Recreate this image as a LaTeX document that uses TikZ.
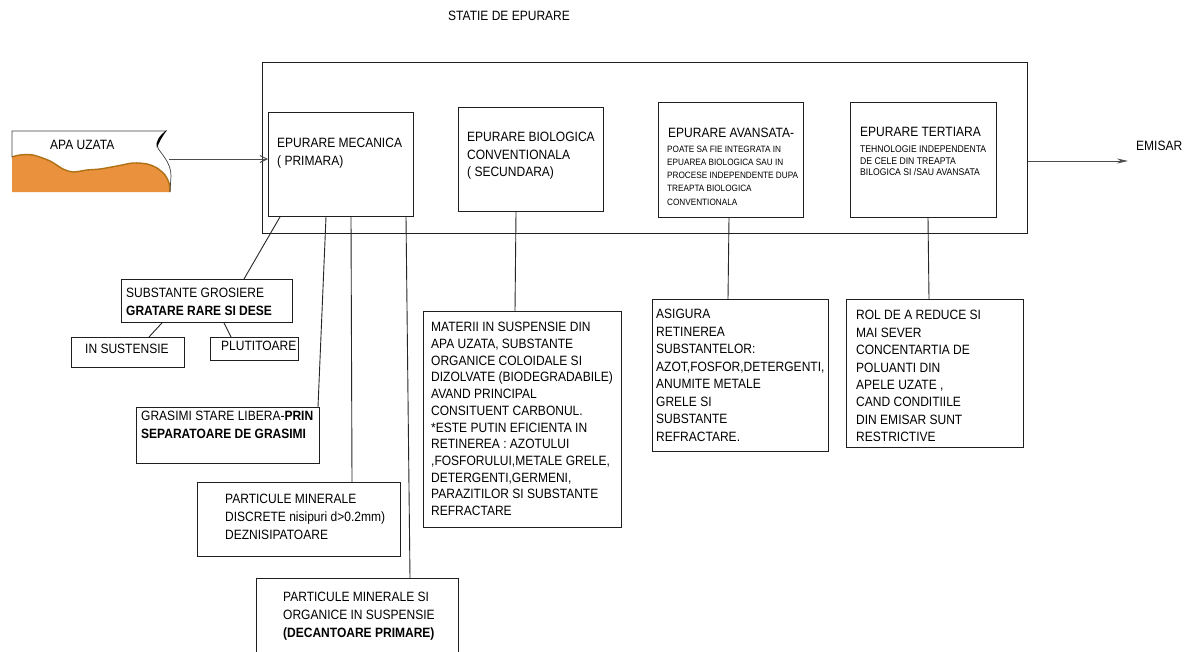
\documentclass[tikz,border=0pt]{standalone}
\usepackage{fontspec}
\setmainfont{Liberation Sans}[FakeStretch=0.89]
\usetikzlibrary{arrows.meta}
\definecolor{apaorange}{RGB}{233,145,60}
\definecolor{apabrown}{RGB}{176,112,20}
\newcommand{\bodyf}[1]{\fontsize{13.5}{#1}\selectfont}
\begin{document}
\begin{tikzpicture}[x=1pt,y=-1pt,
  bx/.style={draw=black!88, line width=0.9pt, inner sep=0pt, anchor=north west},
  tx/.style={inner sep=0pt, anchor=north west, align=left, text=black},
  ln/.style={draw=black!85, line width=0.9pt},
  arr/.style={draw=black!70, line width=0.9pt}]
\useasboundingbox (0,0) rectangle (1191,651);
\fill[white] (0,0) rectangle (1191,651);
\clip (0,0) rectangle (1191,651);

% title
\node[tx, font=\bodyf{16}] (title) at (448,11.2) {STATIE DE EPURARE};

% APA UZATA shape
\fill[apaorange] plot[smooth] coordinates {(12,157) (20,155) (33,155) (50,161) (63,169) (73,172) (87,170) (100,169) (117,166) (133,163) (147,164) (157,168) (165,175) (169,183) (170,192)} -- (12,192) -- cycle;
\draw[apabrown, line width=1.4pt] plot[smooth] coordinates {(12,157) (20,155) (33,155) (50,161) (63,169) (73,172) (87,170) (100,169) (117,166) (133,163) (147,164) (157,168) (165,175) (169,183) (170,192)};
\draw[black!75, line width=0.7pt] (12,157) -- (12,131) -- (166,131) .. controls (160,137) and (155,142) .. (158,148) .. controls (161,154) and (171,162) .. (171,176) -- (170,192);
\fill[black] (167,130) .. controls (160,135) and (155,141) .. (157,148) .. controls (159,142) and (162,137) .. (167,130) -- cycle;
\node[tx, font=\bodyf{16}] (apa) at (50,140.2) {APA UZATA};
\coordinate (apaout) at (169,159);

% outer box
\node[bx, minimum width=765pt, minimum height=171pt] (outer) at (262,62) {};

% stage boxes
\node[bx, minimum width=145pt, minimum height=104pt] (mec) at (268,112) {};
\node[tx, font=\bodyf{18}] (mect) at (277,138.2) {EPURARE MECANICA\\( PRIMARA)};

\node[bx, minimum width=145pt, minimum height=104pt] (bio) at (458,107) {};
\node[tx, font=\bodyf{17.2}] (biot) at (467,132.2) {EPURARE BIOLOGICA\\CONVENTIONALA\\( SECUNDARA)};

\node[bx, minimum width=145pt, minimum height=115pt] (ava) at (658,102) {};
\node[tx, font=\bodyf{16}] (avat) at (668,128.2) {EPURARE AVANSATA-};
\node[tx, font=\fontsize{9.2}{13.2}\selectfont] (avas) at (667,145.7) {POATE SA FIE INTEGRATA IN\\EPUAREA BIOLOGICA SAU IN\\PROCESE INDEPENDENTE DUPA\\TREAPTA BIOLOGICA\\CONVENTIONALA};

\node[bx, minimum width=146pt, minimum height=115pt] (ter) at (850,102) {};
\node[tx, font=\bodyf{16}] (tert) at (860,127.2) {EPURARE TERTIARA};
\node[tx, font=\fontsize{9.7}{11.6}\selectfont] (ters) at (860,145.5) {TEHNOLOGIE INDEPENDENTA\\DE CELE DIN TREAPTA\\BILOGICA SI /SAU AVANSATA};

% arrows
\draw[arr, -{Straight Barb[length=7pt,width=7pt]}] (apaout) -- (apaout -| mec.west);
\coordinate (emisarpt) at (1128,161);
\draw[arr, -{Stealth[length=11pt,width=5pt]}] (emisarpt -| outer.east) -- (emisarpt);
\node[tx, font=\bodyf{16}] (emisar) at (1136,141.2) {EMISAR};

% lower boxes
\node[bx, minimum width=171pt, minimum height=43pt] (subs) at (121,279) {};
\node[tx, font=\bodyf{18}] (subst) at (126,288.2) {SUBSTANTE GROSIERE\\\textbf{GRATARE RARE SI DESE}};

\node[bx, minimum width=113pt, minimum height=30pt] (insu) at (71,337) {};
\node[tx, font=\bodyf{16}] (insut) at (85,344.2) {IN SUSTENSIE};

\node[bx, minimum width=88pt, minimum height=23pt] (plut) at (210,337) {};
\node[tx, font=\bodyf{16}] (plutt) at (221,341.2) {PLUTITOARE};

\node[bx, minimum width=183pt, minimum height=56pt] (gras) at (136,407) {};
\node[tx, font=\bodyf{18}] (grast) at (141,411.2) {GRASIMI STARE LIBERA-\textbf{PRIN}\\\textbf{SEPARATOARE DE GRASIMI}};

\node[bx, minimum width=203pt, minimum height=74pt] (pmin) at (197,482) {};
\node[tx, font=\bodyf{17.8}] (pmint) at (225,494.2) {PARTICULE MINERALE\\DISCRETE nisipuri d>0.2mm)\\DEZNISIPATOARE};

\node[bx, minimum width=202pt, minimum height=90pt] (pbot) at (256,578) {};
\node[tx, font=\bodyf{18}] (pbott) at (283,592.2) {PARTICULE MINERALE SI\\ORGANICE IN SUSPENSIE\\\textbf{(DECANTOARE PRIMARE)}};

\node[bx, minimum width=198pt, minimum height=216pt] (mat) at (423,311) {};
\node[tx, font=\bodyf{16.7}] (matt) at (431,322.2) {MATERII IN SUSPENSIE DIN\\APA UZATA, SUBSTANTE\\ORGANICE COLOIDALE SI\\DIZOLVATE (BIODEGRADABILE)\\AVAND PRINCIPAL\\CONSITUENT CARBONUL.\\*ESTE PUTIN EFICIENTA IN\\RETINEREA : AZOTULUI\\,FOSFORULUI,METALE GRELE,\\DETERGENTI,GERMENI,\\PARAZITILOR SI SUBSTANTE\\REFRACTARE};

\node[bx, minimum width=176pt, minimum height=152pt] (asi) at (652,299) {};
\node[tx, font=\bodyf{17.5}] (asit) at (656,309.2) {ASIGURA\\RETINEREA\\SUBSTANTELOR:\\AZOT,FOSFOR,DETERGENTI,\\ANUMITE METALE\\GRELE SI\\SUBSTANTE\\REFRACTARE.};

\node[bx, minimum width=177pt, minimum height=148pt] (rol) at (846,299) {};
\node[tx, font=\bodyf{17.4}] (rolt) at (856,310.2) {ROL DE A REDUCE SI\\MAI SEVER\\CONCENTARTIA DE\\POLUANTI DIN\\APELE UZATE ,\\CAND CONDITIILE\\DIN EMISAR SUNT\\RESTRICTIVE};

% connectors
\draw[ln] ([xshift=12pt]mec.south west) -- ([xshift=123pt]subs.north west);
\draw[ln] ([xshift=58pt]mec.south west) -- ([xshift=182pt]gras.north west);
\draw[ln] ([xshift=83pt]mec.south west) -- ([xshift=155pt]pmin.north west);
\draw[ln] ([xshift=138pt]mec.south west) -- ([xshift=154pt]pbot.north west);
\draw[ln] ([xshift=41pt]subs.south west) -- ([xshift=78pt]insu.north west);
\draw[ln] ([xshift=103pt]subs.south west) -- ([xshift=21pt]plut.north west);
\draw[ln] ([xshift=58pt]bio.south west) -- ([xshift=92pt]mat.north west);
\draw[ln] ([xshift=71pt]ava.south west) -- ([xshift=76pt]asi.north west);
\draw[ln] ([xshift=78pt]ter.south west) -- ([xshift=83pt]rol.north west);
\end{tikzpicture}
\end{document}
